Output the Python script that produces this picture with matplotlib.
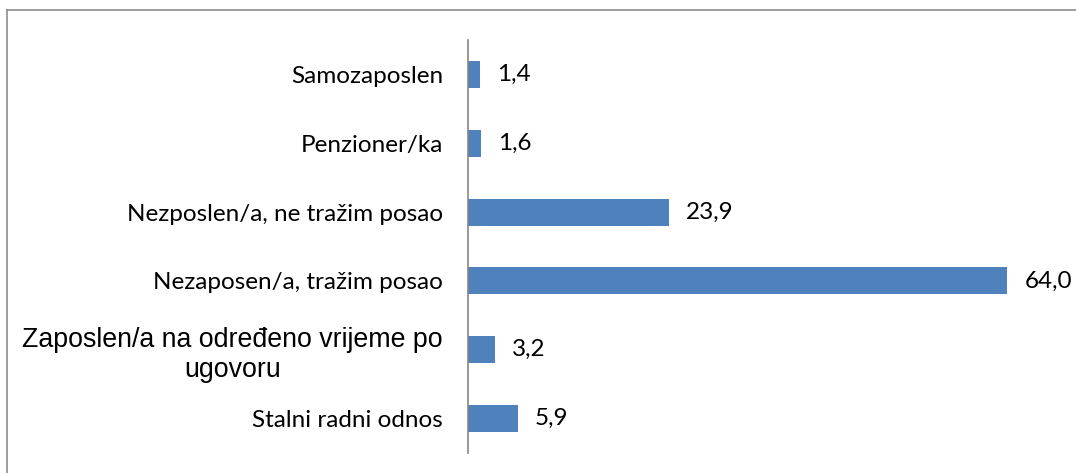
import matplotlib.pyplot as plt
from matplotlib.lines import Line2D

# kategorije odozgo prema dolje
kategorije = ['Samozaposlen', 'Penzioner/ka', 'Nezposlen/a, ne tražim posao',
              'Nezaposen/a, tražim posao', 'Zaposlen/a na određeno vrijeme po\nugovoru',
              'Stalni radni odnos']
vrijednosti = [1.4, 1.6, 23.9, 64.0, 3.2, 5.9]

W, H = 1076, 473
fig = plt.figure(figsize=(W / 100, H / 100), dpi=100)

# okvir oko grafikona (samo lijeva i gornja ivica su vidljive)
fig.add_artist(Line2D([7 / W, 7 / W], [0, 1 - 10 / H], color='#8c8c8c', lw=1.2))
fig.add_artist(Line2D([7 / W, 1], [1 - 10 / H, 1 - 10 / H], color='#8c8c8c', lw=1.2))

ax = fig.add_axes([468 / W, 20 / H, 590 / W, 413 / H])

n = len(kategorije)
pozicije = list(range(n - 1, -1, -1))
ax.barh(pozicije, vrijednosti, height=0.39, color='#4f81bd')

for y, v in zip(pozicije, vrijednosti):
    ax.text(v + 2.0, y, ('%.1f' % v).replace('.', ','), va='center', ha='left',
            fontsize=17.5, family=['Lato', 'DejaVu Sans'], color='#000000')

ax.set_xlim(0, 70)
ax.set_ylim(-0.5, n - 0.5)
ax.set_yticks(pozicije)
ax.set_yticklabels(kategorije)
ax.tick_params(axis='y', length=0, pad=18)
ax.set_xticks([])

for lab in ax.get_yticklabels():
    if 'ugovoru' in lab.get_text():
        lab.set_family(['Liberation Sans', 'DejaVu Sans'])
        lab.set_fontsize(19.3)
        lab.set_multialignment('center')
    else:
        lab.set_family(['Lato', 'DejaVu Sans'])
        lab.set_fontsize(17.5)

for s in ['top', 'right', 'bottom']:
    ax.spines[s].set_visible(False)
ax.spines['left'].set_color('#868686')
ax.spines['left'].set_linewidth(1.2)

fig.savefig('out.png', dpi=100)
